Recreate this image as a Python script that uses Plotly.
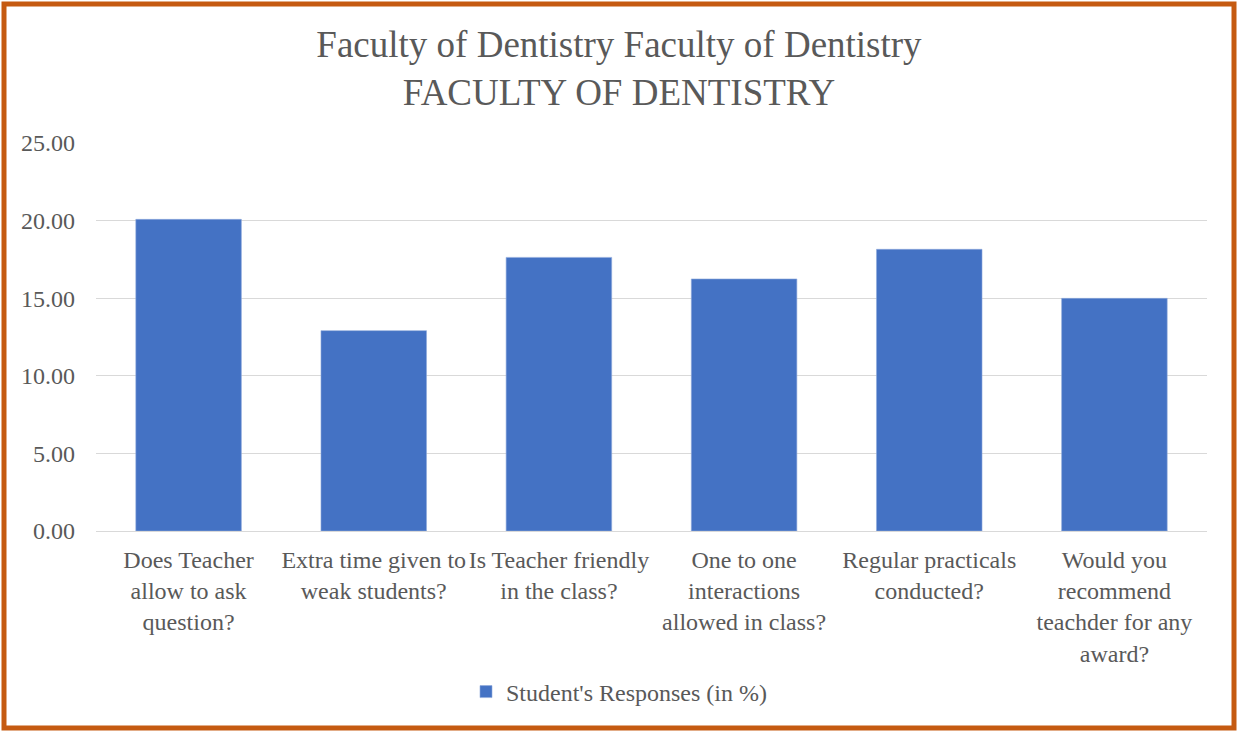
import plotly.graph_objects as go

categories = [
    "Does Teacher<br>allow to ask<br>question?",
    "Extra time given to<br>weak students?",
    "Is Teacher friendly<br>in the class?",
    "One to one<br>interactions<br>allowed in class?",
    "Regular practicals<br>conducted?",
    "Would you<br>recommend<br>teachder for any<br>award?",
]
responses = [20.08, 12.91, 17.63, 16.24, 18.15, 14.99]
series_name = "Student's Responses (in %)"
y_ticks = [0, 5, 10, 15, 20, 25]

W, H = 1238, 731
L, R, T, B = 96, 31, 143, 200
pw, ph = W - L - R, H - T - B


def px_x(x):
    return (x - L) / pw


def px_y(y):
    return (H - B - y) / ph


fig = go.Figure()

fig.add_trace(
    go.Bar(
        x=categories,
        y=responses,
        name=series_name,
        marker=dict(color="#4472C4", line=dict(color="#8FAADC", width=0.6)),
        showlegend=True,
    )
)

fig.update_layout(
    width=W,
    height=H,
    margin=dict(l=L, r=R, t=T, b=B),
    paper_bgcolor="white",
    plot_bgcolor="white",
    font=dict(family="Liberation Serif", color="#595959", size=24),
    title=dict(
        text="Faculty of Dentistry Faculty of Dentistry<br>FACULTY OF DENTISTRY",
        x=0.5,
        xanchor="center",
        y=1 - 57 / H,
        yanchor="middle",
        font=dict(family="Liberation Serif", size=37, color="#595959"),
    ),
    bargap=0.43,
    showlegend=True,
    legend=dict(
        orientation="h",
        x=px_x(W / 2),
        xanchor="center",
        y=px_y(692),
        yanchor="middle",
        font=dict(size=24, color="#595959"),
        itemwidth=30,
    ),
    xaxis=dict(
        showline=False,
        showgrid=False,
        ticks="",
        ticklabelstandoff=12,
        tickfont=dict(size=24),
    ),
    yaxis=dict(
        range=[0, 25],
        tickvals=y_ticks,
        tickformat=".2f",
        showgrid=True,
        gridcolor="#D9D9D9",
        gridwidth=1.3,
        zeroline=True,
        zerolinecolor="#D9D9D9",
        zerolinewidth=1.3,
        showline=False,
        ticks="",
        ticklabelstandoff=20,
        tickfont=dict(size=24),
    ),
    shapes=[
        dict(
            type="rect",
            xref="paper",
            yref="paper",
            x0=px_x(4),
            x1=px_x(W - 4),
            y0=px_y(4),
            y1=px_y(H - 3),
            line=dict(color="#C55A11", width=5),
            fillcolor="rgba(0,0,0,0)",
            layer="above",
        )
    ],
)

fig.write_html(
    "out.html",
    config={"displayModeBar": False},
    post_script="document.body.style.margin='0';",
)
